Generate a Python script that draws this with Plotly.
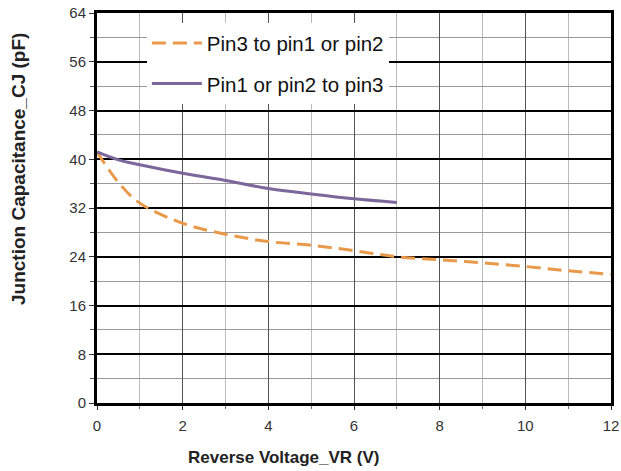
import plotly.graph_objects as go

vr_a = [0, 0.5, 1, 2, 3, 4, 5, 6, 7, 8, 9, 10, 11, 12]
cj_a = [41.2, 36.2, 32.8, 29.5, 27.7, 26.5, 25.9, 25.0, 24.0, 23.5, 23.0, 22.4, 21.7, 21.1]
vr_b = [0, 0.5, 1, 2, 3, 4, 5, 6, 7]
cj_b = [41.2, 39.9, 39.1, 37.7, 36.5, 35.2, 34.3, 33.5, 32.9]
name_a = "Pin3 to pin1 or pin2"
name_b = "Pin1 or pin2 to pin3"

fig = go.Figure()
fig.add_trace(go.Scatter(x=vr_a, y=cj_a, mode="lines", name=name_a, legendgroup="a",
                         line=dict(color="#E8994A", width=3, dash="14px,7px", shape="spline")))
fig.add_trace(go.Scatter(x=vr_b, y=cj_b, mode="lines", name=name_b, legendgroup="b",
                         line=dict(color="#7B679A", width=3, shape="spline")))

fig.update_layout(
    width=621, height=471,
    margin=dict(l=97, r=10, t=13, b=68, autoexpand=False),
    paper_bgcolor="white", plot_bgcolor="white",
    font=dict(family="Liberation Sans, Arial", size=15, color="#333"),
    showlegend=True,
    legend=dict(x=0.097, y=0.974, xanchor="left", yanchor="top",
                bgcolor="white", borderwidth=0, traceorder="grouped",
                tracegroupgap=11, font=dict(size=20.5, color="#111"),
                itemwidth=50),
    annotations=[
        dict(text="<b>Reverse Voltage_VR (V)</b>", xref="paper", yref="paper",
             x=0.362, y=-0.11, xanchor="center", yanchor="top", showarrow=False,
             font=dict(size=17, color="#222")),
        dict(text="<b>Junction Capacitance_CJ (pF)</b>", xref="paper", yref="paper",
             x=-0.178, y=0.6, xanchor="left", yanchor="middle", textangle=-90,
             showarrow=False, font=dict(size=19, color="#222")),
    ],
)

fig.update_xaxes(range=[0, 12], tick0=0, dtick=2, showgrid=True, gridcolor="#555",
                 gridwidth=1, zeroline=False, showline=True, linecolor="black",
                 linewidth=3, mirror=True, ticks="outside", ticklen=4, tickcolor="#333",
                 automargin=False, ticklabelstandoff=3,
                 minor=dict(dtick=1, showgrid=True, gridcolor="#bbb", gridwidth=1,
                            ticks="outside", ticklen=3, tickcolor="#777"))
fig.update_yaxes(range=[0, 64], tick0=0, dtick=8, showgrid=True, gridcolor="black",
                 gridwidth=2, zeroline=False, showline=True, linecolor="black",
                 linewidth=3, mirror=True, ticks="outside", ticklen=5, tickcolor="#333",
                 automargin=False,
                 minor=dict(dtick=4, showgrid=True, gridcolor="#999", gridwidth=1,
                            ticks="outside", ticklen=4, tickcolor="#555"))

fig.write_html("out.html", config={"displayModeBar": False},
               post_script="document.body.style.margin='0';document.body.style.overflow='hidden';")
